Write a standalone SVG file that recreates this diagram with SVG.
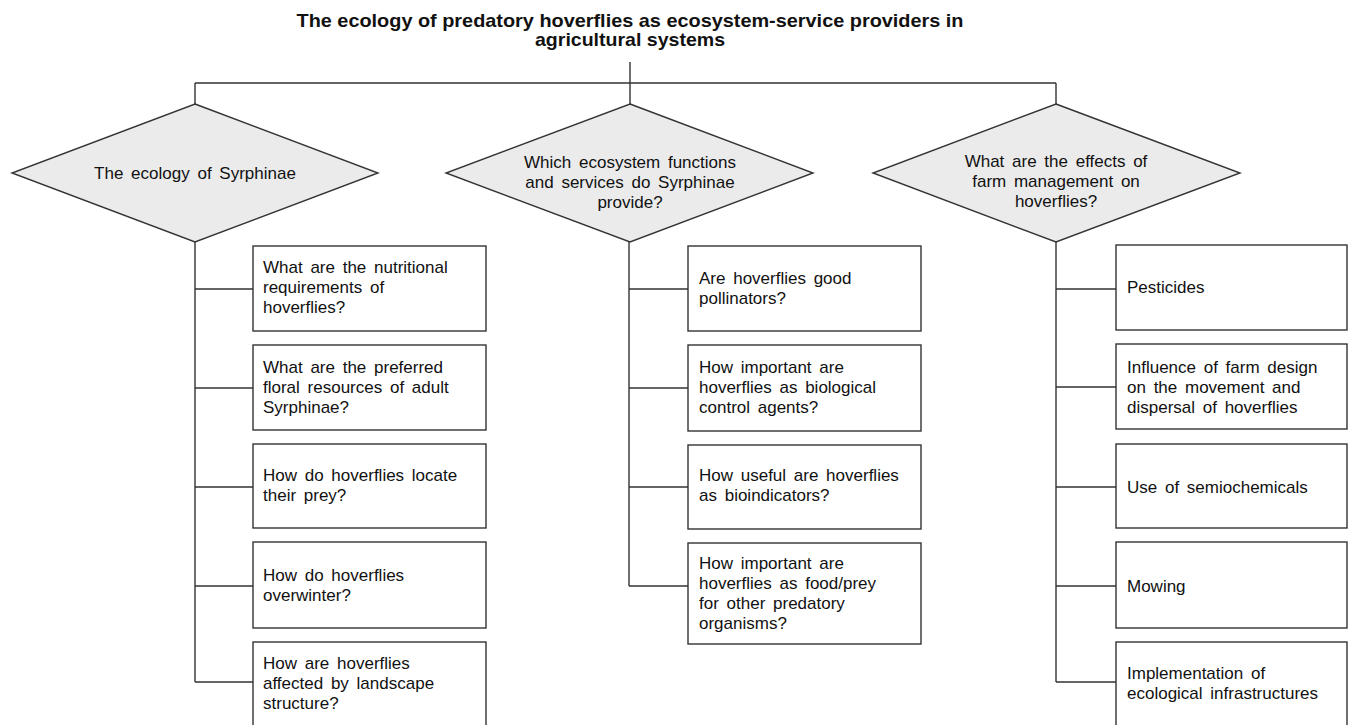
<svg xmlns="http://www.w3.org/2000/svg" width="1351" height="725" viewBox="0 0 1351 725">
<style>
.t{font-family:"Liberation Sans",Arial,sans-serif;font-size:17px;fill:#111;word-spacing:3px}
.d{text-anchor:middle}
.title{font-family:"Liberation Sans Narrow","Liberation Sans",Arial,sans-serif;font-size:19px;font-weight:bold;fill:#111;text-anchor:middle}
.box{fill:#fff;stroke:#333;stroke-width:1.4}
.dia{fill:#ebebeb;stroke:#333;stroke-width:1.4}
.c{fill:none;stroke:#333;stroke-width:1.4}
</style>
<rect width="1351" height="725" fill="#fff"/>
<g id="title">
<text class="title" x="630" y="27" textLength="667" lengthAdjust="spacingAndGlyphs">The ecology of predatory hoverflies as ecosystem-service providers in</text>
<text class="title" x="630" y="46" textLength="190" lengthAdjust="spacingAndGlyphs">agricultural systems</text>
</g>
<g id="connectors">
<path class="c" d="M630 62V83M195 83H1056M195 83V104M630 83V104M1056 83V104"/>
<path class="c" d="M195 242V682M195 289H253M195 388H253M195 487H253M195 586H253M195 682H253"/>
<path class="c" d="M629 242V586M629 289H688M629 388H688M629 487H688M629 586H688"/>
<path class="c" d="M1056 242V682M1056 289H1116M1056 387H1116M1056 487H1116M1056 586H1116M1056 682H1116"/>
</g>
<g id="d1"><polygon class="dia" points="195,104 378,173 195,242 12,173"/><text class="t d" x="195" y="179">The ecology of Syrphinae</text></g>
<g id="d2"><polygon class="dia" points="630,104 813,173 630,242 446,173"/><text class="t d" x="630" y="168">Which ecosystem functions</text><text class="t d" x="630" y="188">and services do Syrphinae</text><text class="t d" x="630" y="208">provide?</text></g>
<g id="d3"><polygon class="dia" points="1056,104 1240,173 1056,242 873,173"/><text class="t d" x="1056" y="167">What are the effects of</text><text class="t d" x="1056" y="187">farm management on</text><text class="t d" x="1056" y="207">hoverflies?</text></g>

<g id="l1"><rect class="box" x="253" y="246" width="233" height="85"/><text class="t" x="263" y="273">What are the nutritional</text><text class="t" x="263" y="293">requirements of</text><text class="t" x="263" y="313">hoverflies?</text></g>
<g id="l2"><rect class="box" x="253" y="345" width="233" height="85"/><text class="t" x="263" y="373">What are the preferred</text><text class="t" x="263" y="393">floral resources of adult</text><text class="t" x="263" y="413">Syrphinae?</text></g>
<g id="l3"><rect class="box" x="253" y="444" width="233" height="84"/><text class="t" x="263" y="481">How do hoverflies locate</text><text class="t" x="263" y="501">their prey?</text></g>
<g id="l4"><rect class="box" x="253" y="542" width="233" height="86"/><text class="t" x="263" y="581">How do hoverflies</text><text class="t" x="263" y="601">overwinter?</text></g>
<g id="l5"><rect class="box" x="253" y="642" width="233" height="90"/><text class="t" x="263" y="669">How are hoverflies</text><text class="t" x="263" y="689">affected by landscape</text><text class="t" x="263" y="709">structure?</text></g>

<g id="m1"><rect class="box" x="688" y="246" width="233" height="85"/><text class="t" x="699" y="284">Are hoverflies good</text><text class="t" x="699" y="304">pollinators?</text></g>
<g id="m2"><rect class="box" x="688" y="345" width="233" height="86"/><text class="t" x="699" y="373">How important are</text><text class="t" x="699" y="393">hoverflies as biological</text><text class="t" x="699" y="413">control agents?</text></g>
<g id="m3"><rect class="box" x="688" y="445" width="233" height="84"/><text class="t" x="699" y="481">How useful are hoverflies</text><text class="t" x="699" y="501">as bioindicators?</text></g>
<g id="m4"><rect class="box" x="688" y="543" width="233" height="101"/><text class="t" x="699" y="569">How important are</text><text class="t" x="699" y="589">hoverflies as food/prey</text><text class="t" x="699" y="609">for other predatory</text><text class="t" x="699" y="629">organisms?</text></g>

<g id="r1"><rect class="box" x="1116" y="245" width="231" height="85"/><text class="t" x="1127" y="293">Pesticides</text></g>
<g id="r2"><rect class="box" x="1116" y="344" width="231" height="85"/><text class="t" x="1127" y="373">Influence of farm design</text><text class="t" x="1127" y="393">on the movement and</text><text class="t" x="1127" y="413">dispersal of hoverflies</text></g>
<g id="r3"><rect class="box" x="1116" y="444" width="231" height="84"/><text class="t" x="1127" y="493">Use of semiochemicals</text></g>
<g id="r4"><rect class="box" x="1116" y="542" width="231" height="86"/><text class="t" x="1127" y="592">Mowing</text></g>
<g id="r5"><rect class="box" x="1116" y="642" width="231" height="90"/><text class="t" x="1127" y="679">Implementation of</text><text class="t" x="1127" y="699">ecological infrastructures</text></g>
</svg>
